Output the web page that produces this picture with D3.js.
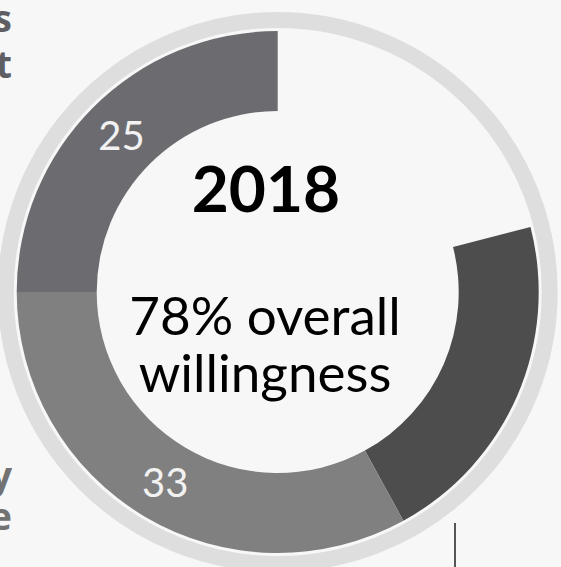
<!DOCTYPE html>
<html>
<head>
<meta charset="utf-8">
<script src="https://cdn.jsdelivr.net/npm/d3@7"></script>
<style>
  html, body { margin: 0; padding: 0; background: #f7f7f7; }
  svg { display: block; }
</style>
</head>
<body>
<svg id="chart" width="561" height="567"></svg>
<script>
// Willingness breakdown, 2018 (shares in %)
const segments = ["Somewhat willing", "Willing", "Very willing"];
const shares = [21, 33, 25];
const shareColors = ["#4d4d4d", "#808080", "#6c6c70"];
const showLabel = [false, true, true];
const year = "2018";
const centerLines = ["78% overall", "willingness"];
const sideLetters = ["s", "t", "y", "e"];

const svg = d3.select("#chart");
const cx = 277.7, cy = 292;
const inner = 181, outer = 261;

// Remainder up to 100% is left empty
const rest = 100 - d3.sum(shares);
const pieData = [{ name: "rest", value: rest, empty: true }].concat(
  segments.map((s, i) => ({ name: s, value: shares[i], color: shareColors[i], label: showLabel[i] }))
);

const pie = d3.pie().sort(null).value(d => d.value);
const arc = d3.arc().innerRadius(inner).outerRadius(outer);

const g = svg.append("g").attr("transform", `translate(${cx},${cy})`);

// Outer track ring
g.append("circle")
  .attr("r", 272)
  .attr("fill", "none")
  .attr("stroke", "#dedede")
  .attr("stroke-width", 16);

const arcs = pie(pieData).filter(d => !d.data.empty);

g.selectAll("path.seg")
  .data(arcs)
  .join("path")
  .attr("class", "seg")
  .attr("d", arc)
  .attr("fill", d => d.data.color);

// Value labels at the middle of each labelled segment
g.selectAll("text.val")
  .data(arcs.filter(d => d.data.label))
  .join("text")
  .attr("class", "val")
  .attr("transform", d => {
    const a = (d.startAngle + d.endAngle) / 2;
    const r = 221;
    return `translate(${r * Math.sin(a)},${-r * Math.cos(a)})`;
  })
  .attr("text-anchor", "middle")
  .attr("dy", "0.36em")
  .attr("fill", "#f2f2f2")
  .style("font-family", "Lato, 'Open Sans', sans-serif")
  .style("font-size", "40px")
  .text(d => d.value);

// Center text
svg.append("text")
  .attr("x", 266).attr("y", 212)
  .attr("text-anchor", "middle")
  .attr("fill", "#000")
  .style("font-family", "Lato, 'Open Sans', sans-serif")
  .style("font-weight", "bold")
  .style("font-size", "64px")
  .text(year);

svg.selectAll("text.center")
  .data(centerLines)
  .join("text")
  .attr("class", "center")
  .attr("x", 265)
  .attr("y", (d, i) => 335 + i * 57)
  .attr("text-anchor", "middle")
  .attr("fill", "#000")
  .style("font-family", "Lato, 'Open Sans', sans-serif")
  .style("font-size", "53px")
  .text(d => d);

// Side caption fragments at the left edge
const sideY = [32, 78, 489, 530];
const sideCol = ["#5f5f63", "#5f5f63", "#727272", "#727272"];
svg.selectAll("text.side")
  .data(sideLetters)
  .join("text")
  .attr("class", "side")
  .attr("x", 12)
  .attr("y", (d, i) => sideY[i])
  .attr("text-anchor", "end")
  .attr("fill", (d, i) => sideCol[i])
  .style("font-family", "'Open Sans', sans-serif")
  .style("font-weight", "bold")
  .style("font-size", "38px")
  .text(d => d);

// Leader line
svg.append("line")
  .attr("x1", 455).attr("x2", 455)
  .attr("y1", 523).attr("y2", 567)
  .attr("stroke", "#555")
  .attr("stroke-width", 2);
</script>
</body>
</html>
